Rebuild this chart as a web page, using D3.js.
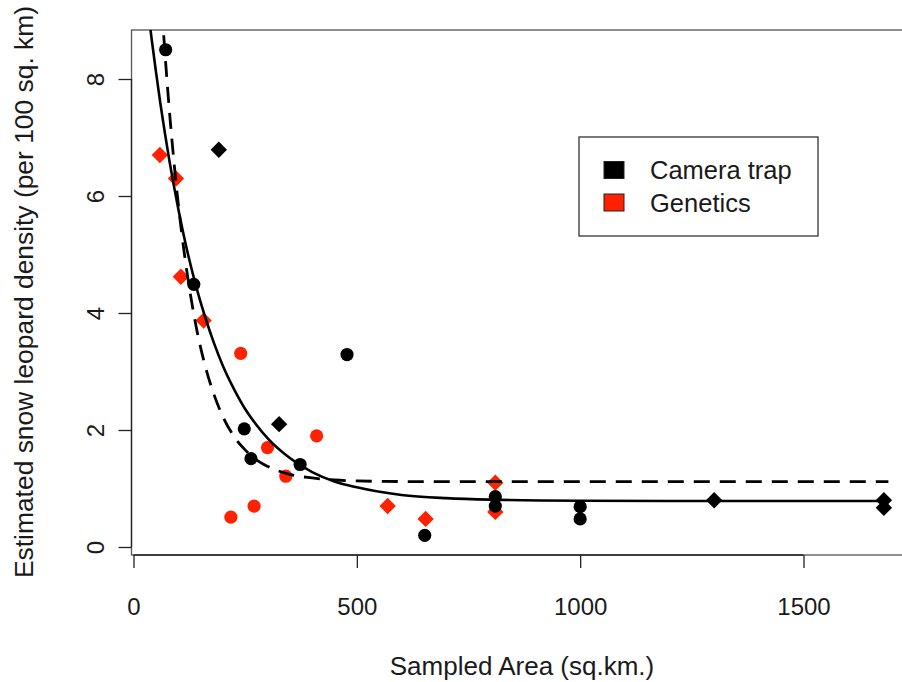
<!DOCTYPE html>
<html>
<head>
<meta charset="utf-8">
<script src="https://cdn.jsdelivr.net/npm/d3@7"></script>
<style>
  html, body { margin: 0; padding: 0; background: #fff; }
  svg { display: block; }
  text { font-family: "Liberation Sans", Arial, Helvetica, sans-serif; fill: #1a1a1a; }
</style>
</head>
<body>
<svg id="chart" width="902" height="682"></svg>
<script>
// ---------- data ----------
const xTicks = [0, 500, 1000, 1500];
const yTicks = [0, 2, 4, 6, 8];
const xLabel = "Sampled Area (sq.km.)";
const yLabel = "Estimated snow leopard density (per 100 sq. km)";
const legendLabels = ["Camera trap", "Genetics"];

// Camera trap points
const cameraCircleX = [72, 135, 248, 263, 373, 478, 652, 810, 810, 1000, 1000];
const cameraCircleY = [8.50, 4.49, 2.02, 1.51, 1.41, 3.29, 0.20, 0.86, 0.70, 0.69, 0.48];
const cameraDiamondX = [191, 326, 1300, 1680, 1680];
const cameraDiamondY = [6.79, 2.10, 0.80, 0.80, 0.67];

// Genetics points
const geneticsCircleX = [240, 410, 300, 341, 270, 218];
const geneticsCircleY = [3.31, 1.90, 1.70, 1.21, 0.70, 0.51];
const geneticsDiamondX = [59, 95, 106, 157, 569, 654, 810, 810];
const geneticsDiamondY = [6.70, 6.30, 4.62, 3.87, 0.70, 0.48, 1.10, 0.60];

// Fitted curves
const solidCurveX = [30, 40, 50, 60, 70, 80, 90, 100, 120, 140, 160, 180, 200, 225, 250, 275, 300, 350, 400, 450, 500, 600, 700, 800, 1000, 1200, 1400, 1690];
const solidCurveY = [9.36, 8.72, 8.14, 7.59, 7.09, 6.62, 6.19, 5.79, 5.07, 4.46, 3.94, 3.49, 3.10, 2.70, 2.36, 2.09, 1.86, 1.52, 1.28, 1.12, 1.02, 0.89, 0.835, 0.809, 0.791, 0.787, 0.786, 0.786];
const dashedCurveX = [60, 70, 80, 90, 100, 115, 130, 145, 160, 180, 200, 225, 250, 275, 300, 350, 400, 450, 500, 600, 800, 1000, 1400, 1690];
const dashedCurveY = [9.64, 8.49, 7.49, 6.63, 5.88, 4.95, 4.20, 3.59, 3.11, 2.61, 2.23, 1.89, 1.66, 1.49, 1.38, 1.24, 1.18, 1.145, 1.13, 1.119, 1.116, 1.116, 1.116, 1.116];

// ---------- layout ----------
const colBlack = "#000000";
const colRed = "#ff2200";
const box = { left: 131.5, right: 915, top: 30, bottom: 555 };

const svg = d3.select("#chart");
const x = d3.scaleLinear().domain([0, 1500]).range([133.5, 803.5]);
const y = d3.scaleLinear().domain([0, 8]).range([547, 79]);

// clip for plot region
svg.append("defs").append("clipPath").attr("id", "plotclip")
  .append("rect")
  .attr("x", box.left).attr("y", box.top)
  .attr("width", box.right - box.left).attr("height", box.bottom - box.top);

// box
svg.append("rect")
  .attr("x", box.left).attr("y", box.top)
  .attr("width", box.right - box.left).attr("height", box.bottom - box.top)
  .attr("fill", "none").attr("stroke", "#555").attr("stroke-width", 1.3);

// x axis (R-style: line between first and last tick, at bottom of box)
const xAxis = d3.axisBottom(x).tickValues(xTicks).tickSize(13).tickPadding(30).tickFormat(d3.format("d"));
const gx = svg.append("g").attr("transform", `translate(0,${box.bottom})`).call(xAxis);
gx.select(".domain").attr("d", `M${x(0)},0H${x(1500)}`).attr("stroke", "#222").attr("stroke-width", 1.3);
gx.selectAll(".tick line").attr("stroke", "#222").attr("stroke-width", 1.3);
gx.selectAll(".tick text").attr("font-size", 24).attr("fill", "#1a1a1a")
  .style("font-family", "'Liberation Sans', Arial, sans-serif");

// y axis
const yAxis = d3.axisLeft(y).tickValues(yTicks).tickSize(13).tickFormat(d3.format("d"));
const gy = svg.append("g").attr("transform", `translate(${box.left},0)`).call(yAxis);
gy.select(".domain").attr("d", `M0,${y(0)}V${y(8)}`).attr("stroke", "#222").attr("stroke-width", 1.3);
gy.selectAll(".tick line").attr("stroke", "#222").attr("stroke-width", 1.3);
gy.selectAll(".tick text")
  .attr("font-size", 24).attr("fill", "#1a1a1a")
  .style("font-family", "'Liberation Sans', Arial, sans-serif")
  .attr("x", null).attr("dy", null)
  .attr("text-anchor", "middle")
  .attr("dominant-baseline", "central")
  .attr("transform", `translate(${95 - box.left},0) rotate(-90)`);

// axis titles
svg.append("text")
  .attr("x", 522).attr("y", 675)
  .attr("text-anchor", "middle").attr("font-size", 26)
  .text(xLabel);
svg.append("text")
  .attr("transform", `translate(33,292) rotate(-90)`)
  .attr("text-anchor", "middle").attr("font-size", 26.4)
  .text(yLabel);

// points
const plot = svg.append("g").attr("clip-path", "url(#plotclip)");
const diamond = (cx, cy, r) => `M${cx},${cy - r}L${cx + r},${cy}L${cx},${cy + r}L${cx - r},${cy}Z`;
const R = 6.6, D = 8.2;

function circles(xs, ys, col) {
  plot.append("g").selectAll("circle").data(xs.map((v, i) => [v, ys[i]])).join("circle")
    .attr("cx", d => x(d[0])).attr("cy", d => y(d[1])).attr("r", R).attr("fill", col);
}
function diamonds(xs, ys, col) {
  plot.append("g").selectAll("path").data(xs.map((v, i) => [v, ys[i]])).join("path")
    .attr("d", d => diamond(x(d[0]), y(d[1]), D)).attr("fill", col);
}
diamonds(geneticsDiamondX, geneticsDiamondY, colRed);
circles(geneticsCircleX, geneticsCircleY, colRed);
circles(cameraCircleX, cameraCircleY, colBlack);
diamonds(cameraDiamondX, cameraDiamondY, colBlack);

// curves
const line = d3.line().x(d => x(d[0])).y(d => y(d[1])).curve(d3.curveMonotoneX);
plot.append("path")
  .datum(solidCurveX.map((v, i) => [v, solidCurveY[i]]))
  .attr("d", line).attr("fill", "none").attr("stroke", "#000").attr("stroke-width", 2.6);
plot.append("path")
  .datum(dashedCurveX.map((v, i) => [v, dashedCurveY[i]]))
  .attr("d", line).attr("fill", "none").attr("stroke", "#000").attr("stroke-width", 2.8)
  .attr("stroke-dasharray", "16,10");

// legend
const lg = svg.append("g");
lg.append("rect").attr("x", 579).attr("y", 137).attr("width", 239).attr("height", 99)
  .attr("fill", "#fff").attr("stroke", "#333").attr("stroke-width", 1.3);
const legendColors = [colBlack, colRed];
legendLabels.forEach((lab, i) => {
  const cy = 170 + i * 32.5;
  lg.append("rect").attr("x", 604).attr("y", cy - 8.5).attr("width", 20).attr("height", 17)
    .attr("fill", legendColors[i]).attr("stroke", "#222").attr("stroke-width", 1);
  lg.append("text").attr("x", 650).attr("y", cy + 9).attr("font-size", 25.5).text(lab);
});
</script>
</body>
</html>
